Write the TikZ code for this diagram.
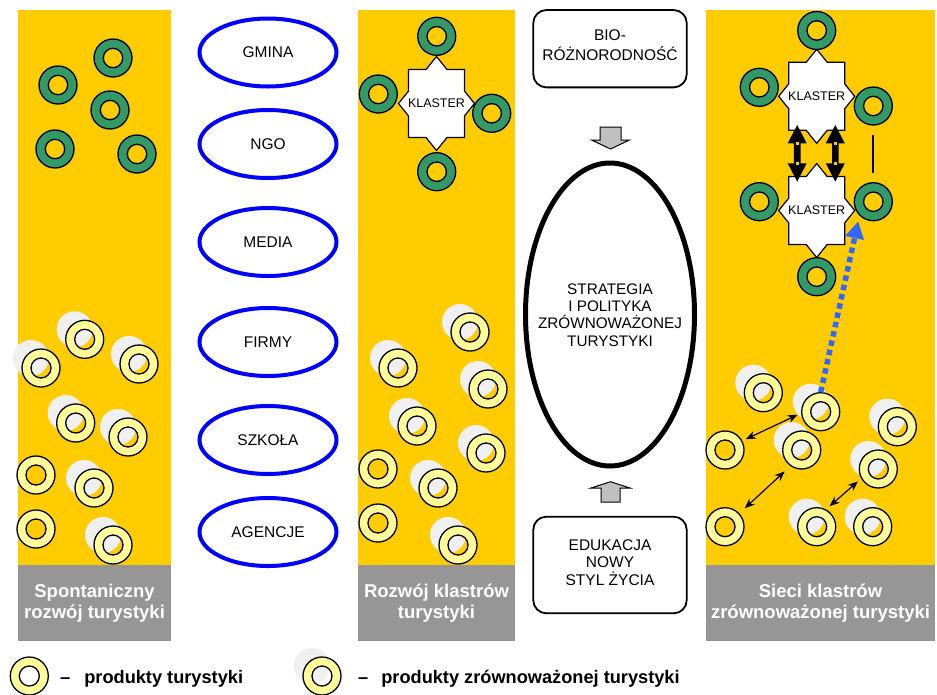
\documentclass[tikz,border=0pt]{standalone}
\usepackage{fontspec}
\setmainfont{Liberation Sans}
\usetikzlibrary{arrows.meta,shapes.geometric}
\definecolor{bgyellow}{RGB}{255,204,0}
\definecolor{ringyellow}{RGB}{255,255,153}
\definecolor{ringgreen}{RGB}{51,153,102}
\definecolor{labelgray}{RGB}{150,150,150}
\definecolor{shadowgray}{RGB}{240,240,240}
\definecolor{arrowgray}{RGB}{192,192,192}
\definecolor{dotblue}{RGB}{51,102,255}
\tikzset{
  anchorcirc/.style={circle, minimum size=39pt, inner sep=0pt, outer sep=0pt},
  ringline/.style={draw=black, line width=1.3pt, even odd rule},
  gring/.pic={
    \filldraw[ringline, fill=ringgreen] (0,0) circle[radius=19pt] (0,0) circle[radius=9.7pt];
    \node[anchorcirc] (-n) at (0,0) {};
  },
  yring/.pic={
    \filldraw[ringline, fill=ringyellow] (0,0) circle[radius=19pt] (0,0) circle[radius=10pt];
    \node[anchorcirc] (-n) at (0,0) {};
  },
  yrings/.pic={
    \fill[shadowgray] (-10,-10) circle[radius=18pt];
    \filldraw[ringline, fill=ringyellow] (0,0) circle[radius=19pt] (0,0) circle[radius=10pt];
    \node[anchorcirc] (-n) at (0,0) {};
  },
  klaster/.pic={
    \filldraw[fill=white, draw=black, line width=1.2pt]
      (0,-47) -- (10.5,-34) -- (28,-34) -- (28,-12.4) -- (38,0) -- (28,12.4) -- (28,34)
      -- (10.5,34) -- (0,47) -- (-10.5,34) -- (-28,34) -- (-28,12.4) -- (-38,0)
      -- (-28,-12.4) -- (-28,-34) -- (-10.5,-34) -- cycle;
    \node[font=\fontsize{12.5}{15}\selectfont, inner sep=0pt] (-c) at (0,0) {KLASTER};
  },
  fatdbl/.pic={
    \fill[black] (0,-28.3) -- (9.5,-10) -- (3.3,-10) -- (3.3,10) -- (9.5,10) -- (0,28.3)
      -- (-9.5,10) -- (-3.3,10) -- (-3.3,-10) -- (-9.5,-10) -- cycle;
    \fill[bgyellow] (-1.6,-11.4) rectangle (1.6,-8.6);
    \fill[bgyellow] (-1.6,8.6) rectangle (1.6,11.4);
  },
  blueell/.style={ellipse, draw=blue, line width=4pt, minimum width=137pt,
    minimum height=68pt, inner sep=0pt, font=\fontsize{15.5}{18}\selectfont},
  rbox/.style={draw=black, line width=1.8pt, rounded corners=13pt,
    minimum width=153.4pt, inner sep=0pt},
  boxtext/.style={align=center, inner sep=0pt, font=\fontsize{15.5}{20}\selectfont},
  graylabel/.style={align=center, inner sep=0pt, text=white,
    font=\bfseries\fontsize{18.5}{20.6}\selectfont},
  legtext/.style={inner sep=0pt, font=\bfseries\fontsize{18.2}{22}\selectfont},
  thinarr/.style={{Stealth[length=10pt,width=8pt]}-{Stealth[length=10pt,width=8pt]}, line width=1.2pt},
}
\begin{document}
\begin{tikzpicture}[x=1pt,y=-1pt]
\useasboundingbox (0,0) rectangle (937,694);
\fill[white] (0,0) rectangle (937,694);

% columns
\fill[bgyellow] (18,10) rectangle (171,565);
\fill[labelgray] (18,565) rectangle (171,641);
\fill[bgyellow] (358,10) rectangle (515,565);
\fill[labelgray] (358,565) rectangle (515,641);
\fill[bgyellow] (706,10) rectangle (935,565);
\fill[labelgray] (706,565) rectangle (935,641);

\node[graylabel] (lab1) at (94.5,603) {Spontaniczny\\rozwój turystyki};
\node[graylabel] (lab2) at (436.5,603) {Rozwój klastrów\\turystyki};
\node[graylabel] (lab3) at (820.5,603) {Sieci klastrów\\zrównoważonej turystyki};

% column 1
\foreach \n/\x/\y in {a1/113/58, a2/58/85, a3/110/110, a4/55/149, a5/137/154}
  \pic (\n) at (\x,\y) {gring};
\foreach \n/\x/\y in {b1/84.7/339.3, b2/41/368, b3/139/364, b4/75.7/423, b5/128/437, b6/94/488, b7/113/545}
  \pic (\n) at (\x,\y) {yrings};
\foreach \n/\x/\y in {b8/36/475, b9/36/529}
  \pic (\n) at (\x,\y) {yring};

% ellipses
\node[blueell] (gmina) at (268,52.5) {GMINA};
\node[blueell] (ngo) at (268,144) {NGO};
\node[blueell] (media) at (268,242) {MEDIA};
\node[blueell] (firmy) at (268,342) {FIRMY};
\node[blueell] (szkola) at (268,440) {SZKOŁA};
\node[blueell] (agencje) at (268,532) {AGENCJE};

% column 2
\pic (k1) at (436.5,103.5) {klaster};
\foreach \n/\x/\y in {c1/436.7/36.3, c2/378.3/94, c3/491.7/113.3, c4/436.7/171.7}
  \pic (\n) at (\x,\y) {gring};
\foreach \n/\x/\y in {d1/470/332, d2/398/368, d3/488/389, d4/417/426, d5/486/453, d6/438/488, d7/458/545}
  \pic (\n) at (\x,\y) {yrings};
\foreach \n/\x/\y in {d8/378/469, d9/378/523}
  \pic (\n) at (\x,\y) {yring};

% centre column
\node[rbox, minimum height=77.3pt] (bio) at (610,48.7) {};
\node[boxtext] (biot) at (610,45) {BIO-\\RÓŻNORODNOŚĆ};
\filldraw[fill=arrowgray, draw=black, line width=1pt]
  (600,127) -- (621,127) -- (621,140) -- (629.5,140) -- (610.5,149) -- (591.5,140) -- (600,140) -- cycle;
\node[ellipse, draw=black, line width=5pt, minimum width=169pt, minimum height=303pt,
  inner sep=0pt] (strat) at (610,314.5) {};
\node[align=center, inner sep=0pt, font=\fontsize{15.3}{17.3}\selectfont] (stratt) at (610,315)
  {STRATEGIA\\I POLITYKA\\ZRÓWNOWAŻONEJ\\TURYSTYKI};
\filldraw[fill=arrowgray, draw=black, line width=1pt]
  (610.5,481.7) -- (630,488) -- (620,488) -- (620,502) -- (601,502) -- (601,488) -- (591,488) -- cycle;
\node[rbox, minimum height=96.6pt] (edu) at (610,565) {};
\node[boxtext, font=\fontsize{15.5}{17.5}\selectfont] (edut) at (610,562.5) {EDUKACJA\\NOWY\\STYL ŻYCIA};

% column 3
\pic (k2) at (816.7,96.3) {klaster};
\pic (k3) at (816.7,210.5) {klaster};
\foreach \n/\x/\y in {gT/816.7/30.5, gUL/759.3/87.3, gUR/873.3/106, gLL/759.3/201.7, gLR/873.3/201.7, gB/816.7/276.7}
  \pic (\n) at (\x,\y) {gring};
\pic at (797.2,153.3) {fatdbl};
\pic at (835.3,153.3) {fatdbl};
\draw[line width=2pt, shorten <=9.5pt, shorten >=9pt] (gUR-n) -- (gLR-n);

\foreach \n/\x/\y in {e1/763.3/392.7, e2/820.7/411.7, e3/897.3/426.7, e5/801.7/450, e6/878.3/469, e8/816.7/526.7, e9/872.7/526.7}
  \pic (\n) at (\x,\y) {yrings};
\foreach \n/\x/\y in {e4/725/450, e7/725/526.7}
  \pic (\n) at (\x,\y) {yring};

\draw[thinarr, shorten <=4pt, shorten >=4pt] (e4-n.28) -- (e2-n.184);
\draw[thinarr, shorten <=7.5pt, shorten >=8pt] (e7-n.43) -- (e5-n.235);
\draw[thinarr, shorten <=5pt, shorten >=4.5pt] (e8-n.62) -- (e6-n.209);

\draw[dotblue, line width=5.5pt, dash pattern=on 5.5pt off 4pt,
  -{Triangle[length=17pt,width=18pt]}, shorten >=6pt] (e2-n.north) -- (gLR-n.south west);

% legend
\pic (L1) at (29.3,676) {yring};
\node[legtext, anchor=base west] (L1t) at (60,683) {–\hskip 14pt produkty turystyki};
\pic (L2) at (322,676) {yrings};
\node[legtext, anchor=base west] (L2t) at (358,683) {–\hskip 13pt produkty zrównoważonej turystyki};
\end{tikzpicture}
\end{document}
